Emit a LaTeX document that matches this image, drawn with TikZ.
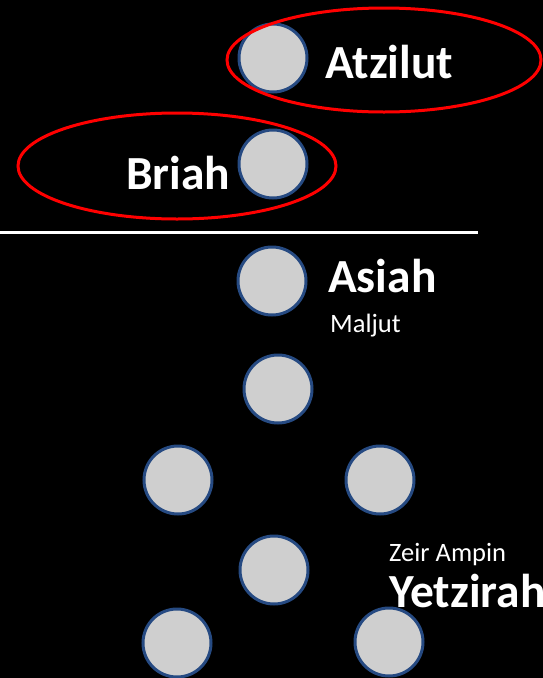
\documentclass[tikz,border=0pt]{standalone}
\usepackage{fontspec}
\setmainfont{Carlito}
\usetikzlibrary{shapes.geometric}
\definecolor{sephfill}{RGB}{207,207,207}
\definecolor{sephline}{RGB}{38,74,130}
\definecolor{ringred}{RGB}{255,0,0}
\tikzset{
  sefira/.style={circle, draw=sephline, fill=sephfill, line width=3pt, minimum size=68pt, inner sep=0pt},
  ring/.style={ellipse, draw=ringred, line width=3pt, inner sep=0pt},
  bigword/.style={text=white, font=\bfseries\fontsize{47.5}{50}\selectfont, anchor=base west, inner sep=0pt},
  smallword/.style={text=white, font=\fontsize{26.5}{30}\selectfont, anchor=base west, inner sep=0pt}
}
\begin{document}
\begin{tikzpicture}[x=1pt,y=-1pt]
\fill[black] (0,0) rectangle (543,678);
\useasboundingbox (0,0) rectangle (543,678);
\clip (0,0) rectangle (543,678);
% sefirot
\node[sefira] (atz) at (273,58) {};
\node[sefira] (bri) at (273,164) {};
\node[sefira] (asi) at (272,281) {};
\node[sefira] (mid) at (278,389) {};
\node[sefira] (lft) at (178,480) {};
\node[sefira] (rgt) at (380,480) {};
\node[sefira] (zei) at (274,570) {};
\node[sefira] (blf) at (177,643) {};
% labels
\node[bigword] (tatz) at (325,78) {Atzilut};
\node[bigword] (tbri) at (126,189) {Briah};
\node[bigword] (tasi) at (328,292) {Asiah};
\node[smallword] (tmal) at (330,332) {Maljut};
\node[smallword] (tzei) at (389,561) {Zeir Ampin};
\node[bigword] (tyet) at (389,607) {Yetzirah};
\node[sefira] (brt) at (389,642) {};
% red rings
\node[ring, minimum width=314pt, minimum height=104pt] (ratz) at (384,60) {};
\node[ring, minimum width=318pt, minimum height=106pt] (rbri) at (177,166) {};
% divider
\coordinate (la) at (0,232);
\coordinate (lb) at (478,232);
\draw[white, line width=3pt] (la) -- (lb);
\end{tikzpicture}
\end{document}
